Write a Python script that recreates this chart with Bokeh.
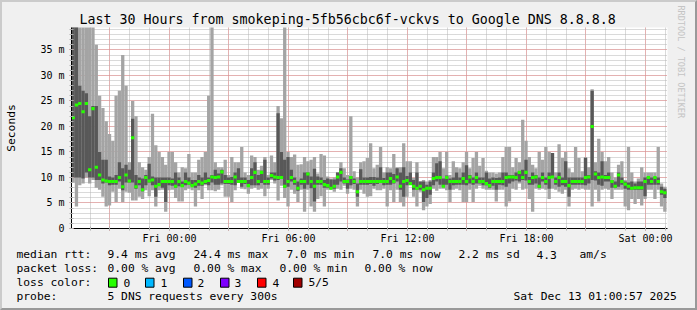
from bokeh.plotting import figure
from bokeh.layouts import column, row
from bokeh.models import (FixedTicker, Range1d, ColumnDataSource, Title)
from bokeh.core.properties import value
from bokeh.embed import file_html
from bokeh.resources import INLINE

# ---------------- data ----------------
T_START = 19.06          # hours since Thu 00:00 (left edge of the graph)
STEP_H = 1.0 / 6.0       # 10-minute consolidated bins

# five sorted pings per bin (ms): min, 2nd, median, 4th, max
ping_min = [9, 4.3, 8.5, 8.8, 10, 8.8, 9.5, 8, 7.6, 6.2,
            4.3, 4.5, 7.2, 5.2, 7.8, 5.2, 7.2, 7, 5.5, 5.5,
            6.2, 5.8, 7.5, 6.3, 7.5, 4.3, 7.5, 7.6, 3.3, 7.5,
            7.6, 6, 5.3, 5.3, 7.5, 7.8, 7.5, 4.3, 7.5, 5.8,
            8.5, 7.5, 7.5, 7.3, 7.6, 8.5, 6.2, 6.2, 5.2, 7.5,
            9, 7.8, 7.7, 6.8, 7.8, 8, 7.6, 7.8, 6.3, 7.8,
            9.5, 8.8, 5.5, 8.4, 6, 4.3, 7.6, 6.8, 5.2, 7.6,
            3.3, 7.6, 4.3, 3.3, 5.8, 6.3, 4.3, 7.6, 7.6, 7.2,
            7.8, 7.6, 8.4, 6.8, 7.8, 7.6, 4.3, 7.6, 6.8, 6.2,
            6.3, 7.8, 7.5, 7.5, 7.8, 4.3, 7.5, 5.2, 7.6, 5.2,
            4.3, 6.2, 8.8, 6.2, 4.3, 7.2, 3.6, 4.3, 4.8, 7.8,
            7.4, 7.8, 7.8, 7.5, 5.2, 7.6, 7.8, 7.5, 5.2, 5.2,
            7.6, 5.2, 7.8, 8.4, 7.8, 7.6, 7.6, 7.6, 5.3, 7.6,
            7.6, 4.3, 5.3, 7.8, 7.6, 8.8, 7.6, 7.8, 5.8, 3.3,
            7.8, 7.6, 7.8, 7.6, 5.8, 7.8, 7.6, 7.2, 6.8, 7.6,
            4.3, 7.6, 7.8, 7.6, 7.8, 7.6, 7.6, 4.3, 7.6, 5.3,
            7.6, 7.8, 7.6, 5.8, 7.6, 7.6, 7.6, 4.3, 3.6, 5.8,
            4.8, 5.8, 4.5, 5.8, 7.6, 7.6, 5.8, 7.6, 4.3, 3.3]
ping_q1 = [10, 10, 10, 9.8, 11, 10, 10, 9.5, 9.5, 8.8,
           9, 8.5, 8.6, 8.6, 9.2, 7.5, 9, 9, 9, 7.8,
           8.5, 7.3, 8.5, 9, 8.5, 6.2, 8.5, 8, 5.2, 8.5,
           8.4, 8, 8.3, 8.2, 8.5, 8.6, 8.3, 8, 8.4, 8.4,
           8.7, 8.5, 9, 8.6, 8.6, 8.8, 8.7, 8.7, 8.6, 8.5,
           9, 8.2, 8.7, 8.2, 8.5, 8.5, 8.5, 8.9, 8.6, 8.6,
           9.8, 9.4, 9.5, 9.8, 8, 8.2, 9.2, 8.6, 7.4, 8.6,
           7.8, 8.6, 7.9, 5.3, 8.6, 8.6, 8, 8, 7.8, 7.8,
           8.6, 9.2, 8.8, 7.8, 8.5, 8.7, 6.2, 8.6, 8.6, 8.6,
           8.7, 8.4, 8.7, 9, 8.5, 8.6, 8.6, 8.8, 9.2, 7.6,
           6.2, 8.5, 8.8, 7.6, 7.6, 7.6, 5.2, 6, 6.6, 8.5,
           9.2, 8.6, 8.2, 8.6, 7.6, 8.5, 8.6, 8.6, 8.6, 8.5,
           8.8, 8.6, 8.8, 8.8, 8.5, 8.5, 8, 8.4, 7.6, 8.6,
           8.5, 8.2, 8.8, 9.2, 9.4, 9.2, 9.5, 9.4, 8.6, 8.6,
           8.8, 8, 9.2, 8.6, 7.8, 10, 8.6, 8.2, 8.5, 8.2,
           6.2, 8.6, 8.6, 8.6, 8.6, 8.5, 8.8, 9.5, 9.4, 8.6,
           8.4, 9.2, 9.2, 8, 8, 8.2, 8.6, 7.8, 7.6, 7.6,
           7.6, 7.6, 7.6, 6.3, 8.6, 8.6, 8.6, 8.6, 6.6, 6]
median_rtt = [21.7, 24.2, 24.5, 22.9, 24.5, 11.5, 23.5, 12, 10.5, 9.5,
              9.3, 9.2, 9.2, 9.2, 10, 8.2, 10.5, 9.3, 17.8, 8.2,
              9.2, 7.6, 10, 9.3, 9.5, 8.3, 8.6, 9.2, 9.2, 9.2,
              9.2, 8.3, 9.2, 8.4, 9.2, 8.9, 8.4, 8.7, 9.2, 8.9,
              9.2, 9.4, 10.1, 10, 10.1, 11.1, 9.2, 9.2, 9.2, 10.1,
              9.2, 9.2, 9.2, 8.4, 10, 11, 9.2, 11, 9.2, 9.2,
              10.4, 10.1, 10, 10, 8.3, 9.2, 10, 9.2, 7.9, 9.2,
              9.2, 10.7, 9.2, 8.3, 9.2, 9.2, 8.6, 8.4, 7.9, 8.3,
              10.1, 11, 9.2, 9.2, 10, 9.2, 7.2, 9.2, 9.2, 9.2,
              9.2, 9.2, 9.2, 9.2, 9.2, 9.2, 9.8, 9.2, 10.1, 8.3,
              9.2, 9.4, 8.8, 8.3, 7.9, 8.3, 7.6, 7.9, 7.9, 9.8,
              10, 10, 8.3, 10, 9.2, 9.2, 9.2, 9.2, 9.8, 9.2,
              10.1, 9.2, 10, 9.2, 9.2, 8.8, 8.4, 9.2, 9.2, 9.2,
              9.2, 10, 10.1, 10.1, 10, 11, 10, 11, 9.2, 10,
              10.1, 8.3, 10, 9.2, 10, 10.1, 9.2, 10, 9.2, 9.2,
              8.4, 9.2, 9.2, 9.2, 9.2, 10, 10.1, 20, 10.7, 10,
              10.1, 10, 10, 9.2, 8.3, 10.5, 9.2, 8.7, 8.3, 7.9,
              8, 8, 8, 9.2, 10, 9.2, 10, 9.2, 7.2, 7.0]
ping_q3 = [45, 45, 28, 27, 26.5, 22, 24, 24, 15, 13.5,
           13.5, 10.2, 10, 10.5, 13, 11.8, 12.5, 11.5, 21.5, 10.5,
           10, 9.8, 10.5, 12.7, 10.2, 10, 10, 10, 10, 10,
           9.8, 11, 10, 9.2, 11, 10, 9.5, 9.5, 10.5, 10,
           11, 10, 10.5, 11.5, 10.8, 11.5, 10.5, 10, 10.1, 11,
           11.8, 10, 10, 9.5, 11.8, 13, 10.5, 11.3, 13.5, 10,
           11, 11, 22.6, 15, 13.5, 14, 11.5, 10, 9.2, 9.8,
           11, 11, 10.2, 11.7, 10.2, 10, 9.5, 9.8, 9.6, 9.6,
           11, 11.8, 10, 9.6, 10.3, 9.8, 8.8, 11.6, 10, 10,
           10.1, 10.1, 10, 12, 9.9, 11, 11, 10.7, 11.8, 11,
           12, 10.3, 11, 9.5, 11, 9.2, 9.2, 8.6, 9.2, 11,
           12.8, 13.2, 9.8, 10.4, 9.8, 10, 11, 10, 11, 12.4,
           10.5, 10, 11, 10, 10, 11, 9.8, 10, 9.9, 10,
           11, 11, 10.5, 10.5, 11, 11.2, 11.5, 13.5, 10.1, 11,
           10.5, 10, 11, 10, 11, 14.8, 10, 11, 10, 13.2,
           10, 10, 10, 10, 10, 13.8, 10.5, 27, 11.2, 11,
           13.2, 10.5, 11, 9.5, 9.2, 11, 10, 9.2, 9, 9.2,
           8.8, 9.2, 9.2, 10, 10.1, 10, 10.1, 10, 8.2, 7.8]
ping_max = [60, 60, 60, 50, 50, 55, 55, 36, 26, 23.6,
            21, 18.5, 17.2, 26, 27, 34, 28, 13, 25, 22,
            13, 12, 11.5, 14, 22.5, 16.3, 15, 14, 12.5, 15,
            15, 13, 11, 12, 11.8, 14.6, 11, 11, 13.5, 14,
            15, 26, 60, 13, 12, 12, 13.5, 10.5, 14, 13,
            13, 16, 11, 10.5, 14.3, 14, 11.5, 12.3, 14, 10.5,
            14.3, 13, 24, 21.6, 60, 15, 14, 14.5, 12.5, 12.6,
            14, 13.2, 13.5, 14, 10.8, 14.6, 14.3, 10.2, 9.8, 10,
            11, 13, 11.8, 10.5, 22, 11.2, 10, 13, 13.2, 13.8,
            16.7, 11.8, 12.5, 16, 11, 12, 11.8, 14.6, 12, 12,
            16.7, 13.2, 13.2, 9.9, 13, 9.2, 9.5, 9.2, 9.5, 14,
            14, 15, 11.8, 15, 10.5, 13.2, 12, 11.8, 13, 15,
            11.8, 13.8, 15, 12.3, 13.8, 11.3, 11, 11, 10.8, 11,
            14, 16, 16, 12, 13.8, 13, 21.3, 17.2, 14, 12.5,
            11.8, 15, 13.5, 16, 15, 14.8, 11, 16.5, 13.8, 15,
            11.8, 11, 16, 13.8, 11.2, 14, 12, 27.3, 13, 17.6,
            15, 13.2, 14, 11, 10, 12.5, 13.2, 9.5, 16, 11,
            9.2, 9.8, 12, 11, 11, 11, 11, 16, 8.8, 8.2]

y_ticks = [0, 5, 10, 15, 20, 25, 30, 35]
y_tick_labels = ["0", "5 m", "10 m", "15 m", "20 m", "25 m", "30 m", "35 m"]
x_ticks = [21, 24, 27, 30, 33, 36, 39, 42, 45, 48]
x_tick_labels = ["", "Fri 00:00", "", "Fri 06:00", "", "Fri 12:00", "",
                 "Fri 18:00", "", "Sat 00:00"]

title_text = "Last 30 Hours from smokeping-5fb56cbc6f-vckvs to Google DNS 8.8.8.8"
watermark_text = "RRDTOOL / TOBI OETIKER"
rtt_stats = ["9.4 ms avg", "24.4 ms max", "7.0 ms min", "7.0 ms now",
             "2.2 ms sd", "4.3", "am/s"]
loss_stats = ["0.00 % avg", "0.00 % max", "0.00 % min", "0.00 % now"]
loss_names = ["0", "1", "2", "3", "4", "5/5"]
loss_colors = ["#26ff00", "#00b8ff", "#0059ff", "#7e00ff", "#ff0000", "#a10000"]
probe_text = "5 DNS requests every 300s"
stamp_text = "Sat Dec 13 01:00:57 2025"

# ---------------- main graph ----------------
MONO = "DejaVu Sans Mono"
BG = "#f0f0f0"
IW = 693                 # inner width (2px shaded frame each side)
H1 = 244                 # main figure height (window rows 2..246)
FL, FT, FW, FH = 65, 25, 601, 201   # plot frame, relative to inner origin
Y_TOP = 39.4
X0 = T_START
X1 = T_START + FW / 20.0

p = figure(width=IW, height=H1, output_backend="svg", toolbar_location=None,
           x_range=Range1d(X0, X1), y_range=Range1d(0, Y_TOP),
           min_border_left=FL, min_border_top=FT,
           min_border_right=IW - FL - FW, min_border_bottom=H1 - FT - FH)
p.border_fill_color = BG
p.background_fill_color = "white"
p.outline_line_color = None

n = len(median_rtt)
left = [T_START + i * STEP_H for i in range(n)]
right = [T_START + (i + 1) * STEP_H for i in range(n)]
src = ColumnDataSource(dict(left=left, right=right, lo=ping_min, q1=ping_q1,
                            med=median_rtt, q3=ping_q3, hi=ping_max,
                            mlo=[m - 0.3 for m in median_rtt],
                            mhi=[m + 0.3 for m in median_rtt]))
p.quad(left="left", right="right", bottom="lo", top="hi", source=src,
       fill_color="#a4a4a4", line_color=None)
p.quad(left="left", right="right", bottom="q1", top="q3", source=src,
       fill_color="#585858", line_color=None)
p.quad(left="left", right="right", bottom="mlo", top="mhi", source=src,
       fill_color=loss_colors[0], line_color=None)

p.title.text = title_text
p.title.align = "left"
p.title.offset = 8
p.title.text_font = MONO
p.title.text_font_size = "13.3px"
p.title.text_font_style = "normal"
p.title.text_color = "black"
p.title.standoff = 2

p.add_layout(Title(text=watermark_text, align="left", offset=-22,
                   text_font=MONO, text_font_size="8.5px",
                   text_font_style="normal", text_color="#c4c4c4",
                   standoff=16), "right")

yax = p.yaxis[0]
yax.ticker = FixedTicker(ticks=y_ticks, minor_ticks=list(range(0, 40)))
yax.major_label_overrides = {t: l for t, l in zip(y_ticks, y_tick_labels)}
xax = p.xaxis[0]
xax.ticker = FixedTicker(ticks=x_ticks, minor_ticks=list(range(20, 50)))
xax.major_label_overrides = {t: l for t, l in zip(x_ticks, x_tick_labels)}
for ax in (xax, yax):
    ax.axis_line_color = "black"
    ax.major_label_text_font = MONO
    ax.major_label_text_font_size = "10px"
    ax.major_label_text_color = "black"
    ax.major_tick_in = 2
    ax.major_tick_out = 2
    ax.minor_tick_in = 2
    ax.minor_tick_out = 2
    ax.major_tick_line_color = "#e07070"
    ax.minor_tick_line_color = "#b0b0b0"
yax.major_label_standoff = 5
xax.major_label_standoff = 2
yax.axis_label = "Seconds"
yax.axis_label_text_font = MONO
yax.axis_label_text_font_size = "11.3px"
yax.axis_label_text_font_style = "normal"
yax.axis_label_text_color = "black"
yax.axis_label_standoff = 19

for g, tk in ((p.xgrid[0], xax.ticker), (p.ygrid[0], yax.ticker)):
    g.ticker = tk
    g.grid_line_color = "#f08080"
    g.grid_line_alpha = 0.9
    g.grid_line_dash = "1 1"
    g.minor_grid_line_color = "#b4b4b4"
    g.minor_grid_line_dash = "1 1"

# ---------------- legend area ----------------
H2 = 62                  # window rows 246..308
q = figure(width=IW, height=H2, output_backend="svg", toolbar_location=None,
           x_axis_location=None, y_axis_location=None,
           x_range=Range1d(2, 2 + IW), y_range=Range1d(246 + H2, 246),
           min_border=0, min_border_left=0, min_border_right=0,
           min_border_top=0, min_border_bottom=0)
q.grid.visible = False
q.outline_line_color = None
q.background_fill_color = BG
q.border_fill_color = BG

row_y = [254, 268, 282, 296]
txt_items = [("median rtt:", 16, row_y[0])]
txt_items += list(zip(rtt_stats, [107, 193, 286, 372, 458, 536, 579], [row_y[0]] * 7))
txt_items += [("packet loss:", 16, row_y[1])]
txt_items += list(zip(loss_stats, [107, 193, 279, 364], [row_y[1]] * 4))
txt_items += [("loss color:", 16, row_y[2])]
txt_items += list(zip(loss_names, [123, 160, 197, 234, 272, 308], [row_y[2]] * 6))
txt_items += [("probe:", 16, row_y[3]), (probe_text, 107, row_y[3]),
              (stamp_text, 513, row_y[3])]
q.text(x=[t[1] for t in txt_items], y=[t[2] for t in txt_items],
       text=[t[0] for t in txt_items], text_font=value(MONO),
       text_font_size=value("11.3px"), text_baseline="middle",
       text_align="left", text_color="black")

box_left = [108, 145, 183, 220, 257, 293]
q.quad(left=box_left, right=[b + 8.5 for b in box_left],
       top=[277.7] * 6, bottom=[286.7] * 6,
       fill_color=loss_colors, line_color="black", line_width=1)

layout = column(p, row(q, spacing=0), spacing=0,
                styles={"border-top": "2px solid #cbcbcb",
                        "border-left": "2px solid #cbcbcb",
                        "border-right": "2px solid #999999",
                        "border-bottom": "2px solid #999999",
                        "background-color": BG})

open("out.html", "w").write(file_html(layout, INLINE))
